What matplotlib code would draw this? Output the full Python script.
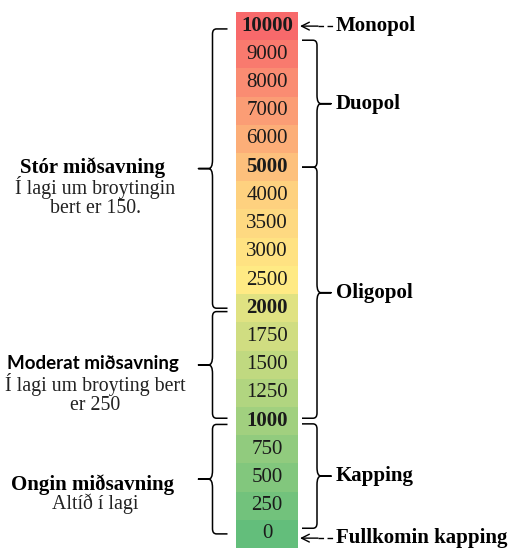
import numpy as np
import matplotlib
matplotlib.use("Agg")
import matplotlib.pyplot as plt
from matplotlib.colors import LinearSegmentedColormap, TwoSlopeNorm
from matplotlib.path import Path
from matplotlib.patches import PathPatch

# Data
values = [10000, 9000, 8000, 7000, 6000, 5000, 4000, 3500, 3000, 2500,
          2000, 1750, 1500, 1250, 1000, 750, 500, 250, 0]
bold_values = [10000, 5000, 2000, 1000]

# left groups: title, subtitle, from value, to value
left_titles = ["Stór miðsavning", "Moderat miðsavning", "Ongin miðsavning"]
left_subs = ["Í lagi um broytingin\nbert er 150.", "Í lagi um broyting bert\ner 250", "Altíð í lagi"]
left_from = [10000, 2000, 1000]
left_to = [2000, 1000, 0]

# right groups
right_labels = ["Duopol", "Oligopol", "Kapping"]
right_from = [9000, 5000, 1000]
right_to = [5000, 1000, 0]

serif = "Liberation Serif"
sans = "Lato"

rows = np.arange(len(values)) + 0.5
idx = {v: i for i, v in enumerate(values)}

cmap = LinearSegmentedColormap.from_list("ryg", ["#63BE7B", "#FFEB84", "#F8696B"])
norm = TwoSlopeNorm(vmin=0, vcenter=2500, vmax=10000)
colors = [cmap(norm(v)) for v in values]

fig = plt.figure(figsize=(5.11, 5.48), dpi=100)
ax = fig.add_axes([0, 0, 1, 1])
ax.set_xlim(0, 511)
ax.set_ylim(len(values), -12 / 28.2)
ax.axis("off")

col_x, col_w = 236, 62
ax.barh(rows, col_w, left=col_x, height=1, color=colors)
for r, v in zip(rows, values):
    ax.text(col_x + col_w / 2, r, str(v), ha="center", va="center", fontsize=15,
            family=serif, fontweight="bold" if v in bold_values else "normal",
            color="#1a1a1a")


def brace(x, y0, y1, d, w=15, tip=14):
    # d=-1 tip points left, d=+1 tip points right
    ym = (y0 + y1) / 2
    r = 0.3
    c = 4
    verts = [(x - d * w, y0), (x - d * c, y0), (x, y0), (x, y0 + r * 0.6),
             (x, ym - r), (x, ym), (x + d * c, ym), (x + d * tip, ym),
             (x + d * c, ym), (x, ym), (x, ym + r),
             (x, y1 - r * 0.6), (x, y1), (x - d * c, y1), (x - d * w, y1)]
    codes = [Path.MOVETO, Path.LINETO, Path.CURVE3, Path.CURVE3,
             Path.LINETO, Path.CURVE3, Path.CURVE3, Path.LINETO,
             Path.LINETO, Path.CURVE3, Path.CURVE3,
             Path.LINETO, Path.CURVE3, Path.CURVE3, Path.LINETO]
    ax.add_patch(PathPatch(Path(verts, codes), fill=False, lw=1.1, color="black",
                           capstyle="butt", joinstyle="round"))
    return ym


# left braces
for k, (t, s, a, b) in enumerate(zip(left_titles, left_subs, left_from, left_to)):
    y0 = idx[a] + 0.5 + (0.12 if k > 0 else 0.1)
    y1 = idx[b] + 0.5 - (0.0 if k == 0 else 0.1)
    if b == 0:
        y1 = idx[b] + 0.5
    ym = brace(212.5, y0, y1, -1)
    fam = sans if k == 1 else serif
    ty = ym + (0.2 if k == 2 else -0.05)
    ax.text(93, ty, t, ha="center", va="center", fontsize=13.5 if k == 1 else 15,
            family=fam, fontweight="bold")
    ax.text(95, ty + 0.32, s, ha="center", va="top", fontsize=14.3, family=serif,
            linespacing=1.0, color="#222222")

# right braces
for k, (lab, a, b) in enumerate(zip(right_labels, right_from, right_to)):
    y0 = idx[a] if k == 0 else idx[a] + 0.5
    y1 = idx[b] + 0.5
    if k == 1:
        y1 -= 0.1
    if k == 2:
        y0 += 0.1
        y1 -= 0.2
    ym = brace(317, y0, y1, 1)
    ax.text(336, ym, lab, ha="left", va="center", fontsize=15, family=serif,
            fontweight="bold")

# arrows
for v, lab in [(10000, "Monopol"), (0, "Fullkomin kapping")]:
    y = idx[v] + 0.5 + (0.15 if v == 0 else 0)
    ax.annotate("", xy=(300, y), xytext=(318, y),
                arrowprops=dict(arrowstyle="->", lw=1.0, color="black",
                                shrinkA=0, shrinkB=0, mutation_scale=14))
    ax.plot([318, 333], [y, y], color="black", lw=1.0, ls=(0, (4, 2.5)))
    ax.text(336, y, lab, ha="left", va="center", fontsize=15,
            family=serif, fontweight="bold")

fig.savefig("out.png", dpi=100)
